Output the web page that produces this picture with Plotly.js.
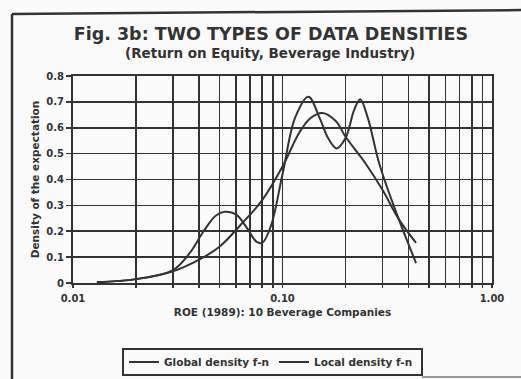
<!DOCTYPE html>
<html>
<head>
<meta charset="utf-8">
<script src="https://cdn.plot.ly/plotly-3.0.1.min.js"></script>
<style>html,body{margin:0;padding:0;background:#fbfbfb;}#chart{width:521px;height:379px;}</style>
</head>
<body>
<div id="chart"></div>
<script>
// ---- data ----
const globalX = [0.013, 0.02, 0.03, 0.04, 0.05, 0.064, 0.08, 0.1, 0.12, 0.135, 0.155, 0.18, 0.2, 0.25, 0.3, 0.36, 0.434];
const globalY = [0.003, 0.015, 0.045, 0.09, 0.14, 0.23, 0.32, 0.45, 0.58, 0.635, 0.657, 0.625, 0.565, 0.46, 0.36, 0.245, 0.155];

const localX = [0.013, 0.02, 0.03, 0.036, 0.042, 0.048, 0.053, 0.06, 0.068, 0.075, 0.08, 0.088, 0.1, 0.115, 0.133, 0.15, 0.165, 0.181, 0.2, 0.22, 0.235, 0.255, 0.29, 0.35, 0.434];
const localY = [0.003, 0.015, 0.05, 0.115, 0.2, 0.26, 0.275, 0.265, 0.21, 0.16, 0.155, 0.22, 0.42, 0.64, 0.72, 0.64, 0.56, 0.52, 0.56, 0.67, 0.71, 0.64, 0.46, 0.27, 0.077];

const xTickVals = [0.01,0.02,0.03,0.04,0.05,0.06,0.07,0.08,0.09,0.1,0.2,0.3,0.4,0.5,0.6,0.7,0.8,0.9,1];
const xTickText = ['0.01','','','','','','','','','0.10','','','','','','','','','1.00'];
const yTickVals = [0,0.1,0.2,0.3,0.4,0.5,0.6,0.7,0.8];
const yTickText = ['0','0.1','0.2','0.3','0.4','0.5','0.6','0.7','0.8'];

const titleText = 'Fig. 3b: TWO TYPES OF DATA DENSITIES';
const subtitleText = '(Return on Equity, Beverage Industry)';
const xTitle = 'ROE (1989): 10 Beverage Companies';
const yTitle = 'Density of the expectation';
const seriesNames = ['Global density f-n', 'Local density f-n'];

// ---- chart ----
const ink = '#333333';
const FONT = 'DejaVu Sans, sans-serif';
const W = 521, H = 379, L = 73, R = 29, T = 76, B = 96;
const pw = W - L - R, ph = H - T - B;
const px = x => (x - L) / pw;
const py = y => (H - B - y) / ph;

const traces = [
  {x: globalX, y: globalY, name: seriesNames[0], mode: 'lines', type: 'scatter',
   line: {color: ink, width: 2, shape: 'spline', smoothing: 1}},
  {x: localX, y: localY, name: seriesNames[1], mode: 'lines', type: 'scatter',
   line: {color: ink, width: 2, shape: 'spline', smoothing: 1}}
];

const layout = {
  width: W, height: H,
  margin: {l: L, r: R, t: T, b: B, pad: 0, autoexpand: false},
  paper_bgcolor: '#fbfbfb', plot_bgcolor: '#fbfbfb',
  font: {family: FONT, color: ink},
  title: {text: titleText, font: {family: FONT, size: 17.5, color: ink, weight: 'bold'},
          x: 0.52, xanchor: 'center', y: 1 - 34 / H, yanchor: 'middle', xref: 'container', yref: 'container'},
  showlegend: true,
  legend: {orientation: 'h', x: px(124), xanchor: 'left', y: py(362), yanchor: 'middle',
           borderwidth: 0, bgcolor: 'rgba(0,0,0,0)',
           font: {family: FONT, size: 10.5, color: ink, weight: 'bold'},
           itemwidth: 30, tracegroupgap: 0},
  xaxis: {type: 'log', range: [-2, 0], tickmode: 'array', tickvals: xTickVals, ticktext: xTickText,
          showgrid: true, gridcolor: ink, gridwidth: 1.6,
          showline: true, linecolor: ink, linewidth: 2, mirror: true,
          ticks: 'outside', ticklen: 3, tickcolor: ink, tickwidth: 1.6, ticklabelstandoff: 2,
          tickfont: {family: FONT, size: 10, color: ink, weight: 'bold'},
          title: {text: xTitle, font: {family: FONT, size: 10.5, color: ink, weight: 'bold'}, standoff: 6},
          zeroline: false, fixedrange: true},
  yaxis: {range: [0, 0.8], tickmode: 'array', tickvals: yTickVals, ticktext: yTickText,
          showgrid: true, gridcolor: ink, gridwidth: 1.6,
          showline: true, linecolor: ink, linewidth: 2, mirror: true,
          ticks: 'outside', ticklen: 5, tickcolor: ink, tickwidth: 1.6,
          tickfont: {family: FONT, size: 10, color: ink, weight: 'bold'},
          title: {text: yTitle, font: {family: FONT, size: 10.5, color: ink, weight: 'bold'}, standoff: 5},
          zeroline: false, fixedrange: true},
  annotations: [
    {text: subtitleText, xref: 'paper', yref: 'paper', x: px(270), y: py(53),
     xanchor: 'center', yanchor: 'middle', showarrow: false,
     font: {family: FONT, size: 13.5, color: ink, weight: 'bold'}}
  ],
  shapes: [
    {type: 'line', xref: 'paper', yref: 'paper', x0: px(12), y0: py(14), x1: px(530), y1: py(10), line: {color: ink, width: 2.5}},
    {type: 'line', xref: 'paper', yref: 'paper', x0: px(12), y0: py(14), x1: px(12), y1: py(390), line: {color: ink, width: 2.5}},
    {type: 'line', xref: 'paper', yref: 'paper', x0: px(422), y0: py(377), x1: px(530), y1: py(377), line: {color: '#777', width: 1.5}},
    {type: 'rect', xref: 'paper', yref: 'paper', x0: px(123), y0: py(349), x1: px(422), y1: py(375), line: {color: ink, width: 2}, fillcolor: 'rgba(0,0,0,0)'}
  ]
};

Plotly.newPlot('chart', traces, layout, {displayModeBar: false, staticPlot: true});
</script>
</body>
</html>
